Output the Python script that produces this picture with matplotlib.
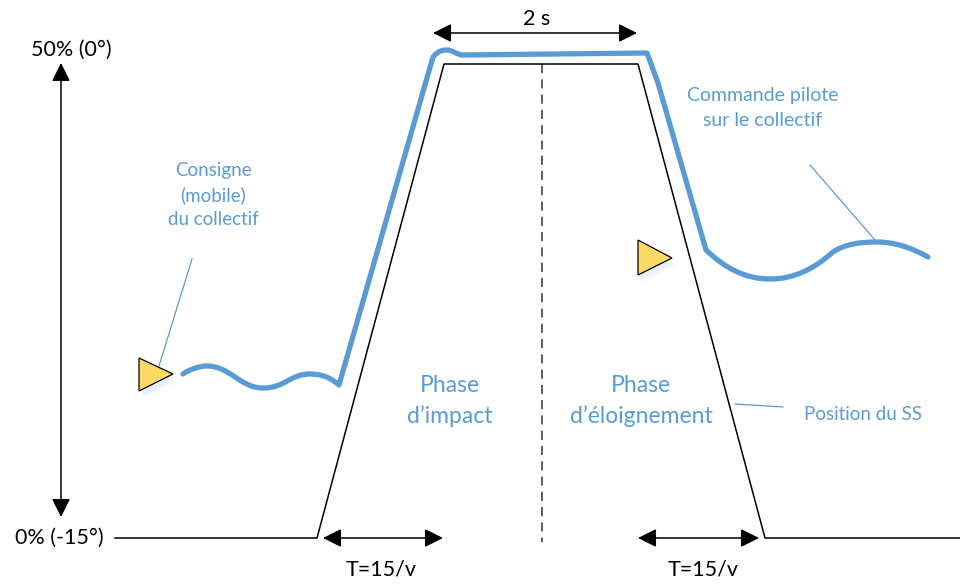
import matplotlib
matplotlib.use("Agg")
import matplotlib.pyplot as plt
from matplotlib.path import Path
from matplotlib.patches import PathPatch, Polygon

# Position du SS (trapezoid), in picture units (x right, y down)
ss_x = [115, 317, 444, 638, 765, 960]
ss_y = [538, 538, 64, 64, 538, 538]

# Commande pilote: cubic bezier pieces (start, ctrl1, ctrl2, end)
wave_left = [
    [(183, 374), (190, 369), (200, 366), (207, 366)],
    [(207, 366), (230, 366), (240, 388), (263, 388)],
    [(263, 388), (285, 388), (290, 374), (310, 374)],
    [(310, 374), (325, 374), (333, 380), (339, 385)],
]
rise = [(339, 385), (433, 57)]
bump = [
    [(433, 57), (438, 51), (442, 50), (447, 50)],
    [(447, 50), (453, 50), (457, 55), (463, 55)],
]
plateau = [(463, 55), (647, 53), (658, 83), (706, 250)]
wave_right = [
    [(706, 250), (725, 268), (745, 279), (770, 279)],
    [(770, 279), (795, 279), (815, 268), (833, 252)],
    [(833, 252), (845, 244), (860, 242), (877, 242)],
    [(877, 242), (895, 242), (912, 248), (928, 257)],
]

triangles = [
    [(139, 358), (139, 391), (173, 374)],
    [(638, 240), (638, 275), (672, 258)],
]

callouts = [
    [(192, 259), (159, 366)],
    [(810, 165), (875, 240)],
    [(735, 404), (783, 407)],
]

BLUE = "#5B9BD5"
plt.rcParams["font.family"] = ["Lato", "DejaVu Sans"]

fig = plt.figure(figsize=(9.6, 5.85), dpi=100)
ax = fig.add_axes([0, 0, 1, 1])
ax.set_xlim(0, 960)
ax.set_ylim(585, 0)
ax.axis("off")

# build the blue path
verts = [wave_left[0][0]]
codes = [Path.MOVETO]
for seg in wave_left:
    verts += seg[1:]
    codes += [Path.CURVE4] * 3
verts.append(rise[1])
codes.append(Path.LINETO)
for seg in bump:
    verts += seg[1:]
    codes += [Path.CURVE4] * 3
for p in plateau[1:]:
    verts.append(p)
    codes.append(Path.LINETO)
for seg in wave_right:
    verts += seg[1:]
    codes += [Path.CURVE4] * 3

ax.add_patch(PathPatch(Path(verts, codes), facecolor="none", edgecolor=BLUE,
                       lw=3.8, capstyle="round", joinstyle="round", zorder=3))

ax.plot(ss_x, ss_y, color="black", lw=1.1, zorder=2)
ax.plot([542, 542], [64, 542], color="#333333", lw=1.1, dashes=(6, 4), zorder=1)

for c in callouts:
    ax.plot([c[0][0], c[1][0]], [c[0][1], c[1][1]], color=BLUE, lw=0.9)

for tri in triangles:
    for k, a in enumerate([0.06, 0.05, 0.04]):
        sh = [(x + 2 + k, y + 4 + 2 * k) for x, y in tri]
        ax.add_patch(Polygon(sh, closed=True, facecolor=BLUE, edgecolor="none",
                             alpha=a, zorder=3))
    ax.add_patch(Polygon(tri, closed=True, facecolor="#FFD966",
                         edgecolor="black", lw=0.9, zorder=4))

head = "<|-|>,head_length=0.8,head_width=0.4"
arrows = [((61, 63), (61, 517)), ((433, 33), (637, 33)),
          ((323, 538), (443, 538)), ((638, 538), (759, 538))]
for a, b in arrows:
    ax.annotate("", xy=b, xytext=a,
                arrowprops=dict(arrowstyle=head, color="black", lw=1.1,
                                mutation_scale=14, shrinkA=0, shrinkB=0))

ax.text(71, 50, "50% (0°)", ha="center", va="center", fontsize=15.5)
ax.text(59, 538, "0% (-15°)", ha="center", va="center", fontsize=15.5)
ax.text(537, 19, "2 s", ha="center", va="center", fontsize=15.5)
ax.text(381, 569, "T=15/v", ha="center", va="center", fontsize=15.5)
ax.text(703, 569, "T=15/v", ha="center", va="center", fontsize=15.5)

ax.text(213, 195, "Consigne\n(mobile)\ndu collectif", ha="center", va="center",
        fontsize=13.5, color=BLUE, linespacing=1.5)
ax.text(763, 108, "Commande pilote\nsur le collectif", ha="center", va="center",
        fontsize=14, color=BLUE, linespacing=1.5)
ax.text(450, 401, "Phase\nd\u2019impact", ha="center", va="center",
        fontsize=16.5, color=BLUE, linespacing=1.55)
ax.text(641, 401, "Phase\nd\u2019éloignement", ha="center", va="center",
        fontsize=16.5, color=BLUE, linespacing=1.55)
ax.text(863, 414, "Position du SS", ha="center", va="center",
        fontsize=13.5, color=BLUE)

fig.savefig("out.png", dpi=100)
